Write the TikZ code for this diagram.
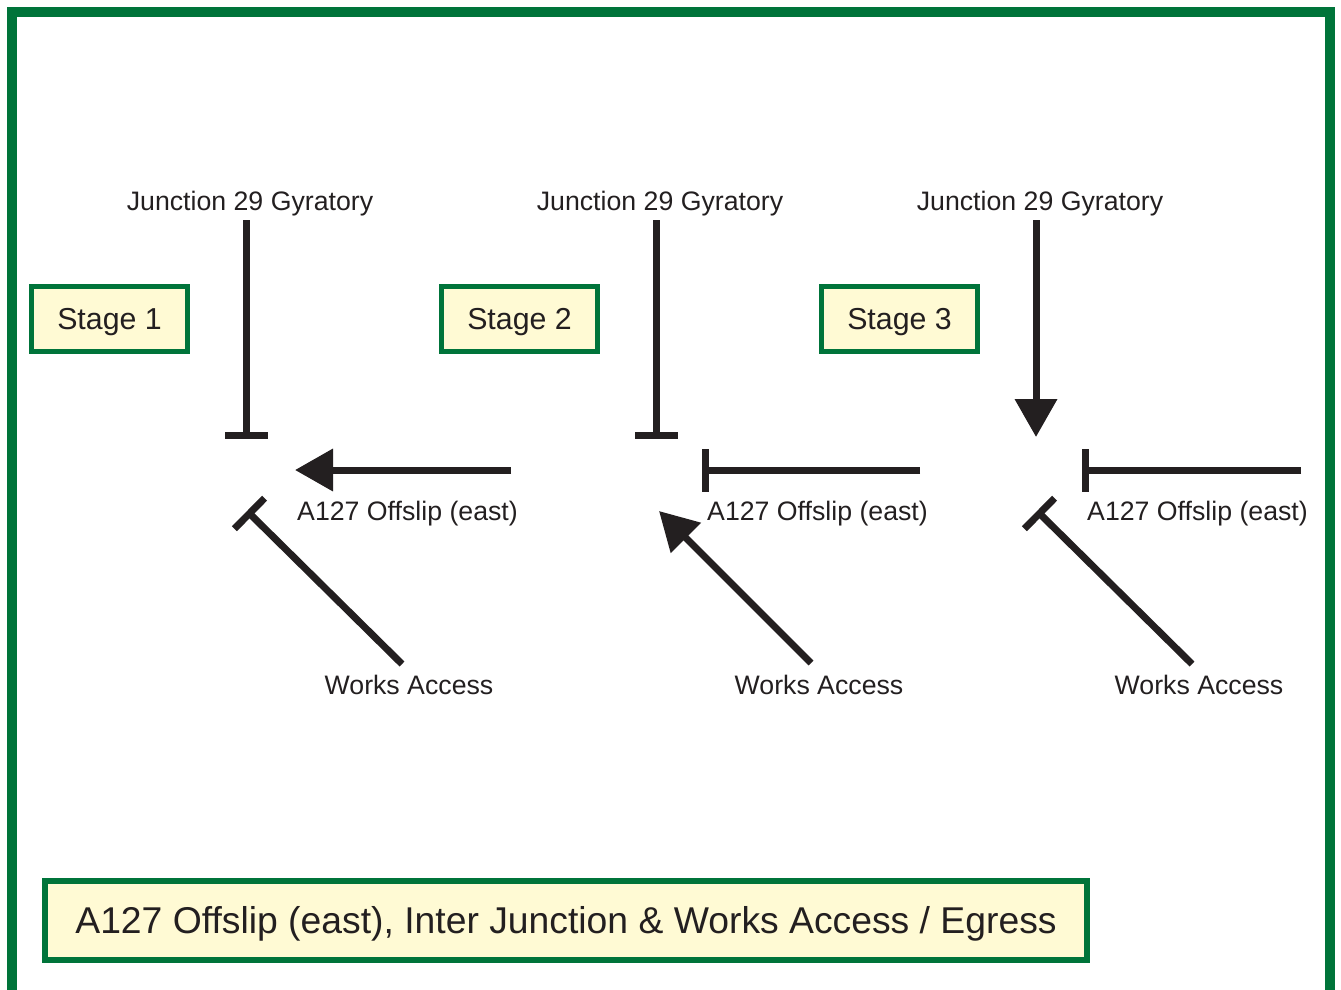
\documentclass[tikz,border=0pt]{standalone}
\usepackage{fontspec}
\setmainfont{Liberation Sans}
\usetikzlibrary{arrows.meta}
\definecolor{sgreen}{RGB}{0,116,58}
\definecolor{spale}{RGB}{255,250,212}
\definecolor{ink}{RGB}{35,31,32}
\tikzset{
  frame/.style={draw=sgreen, line width=10pt},
  stagebox/.style={draw=sgreen, fill=spale, line width=5pt, minimum width=156pt,
    minimum height=65pt, inner sep=0pt, text height=21.5pt, text depth=0pt,
    font=\fontsize{30.3}{34}\selectfont, text=ink},
  titlebox/.style={draw=sgreen, fill=spale, line width=6pt, minimum width=1042pt,
    minimum height=79pt, inner sep=0pt, text height=26.5pt, text depth=0pt,
    font=\fontsize{37.3}{42}\selectfont, text=ink},
  lbl/.style={inner sep=0pt, anchor=base, font=\fontsize{26.7}{30}\selectfont, text=ink},
  lblw/.style={lbl, anchor=base west},
  road/.style={draw=ink, line width=7pt},
  closed/.style={road, -{Bar[width=43pt]}},
  open/.style={road, -{Triangle[length=38pt, width=41pt]}}
}
\begin{document}
\begin{tikzpicture}[x=1pt, y=-1pt]
\useasboundingbox (0,0) rectangle (1341,989);
% outer frame, running off the bottom edge
\begin{scope}
  \clip (0,0) rectangle (1341,989);
  \draw[frame] (12,12) rectangle (1330,1020);
\end{scope}

% stage headings
\node[stagebox] (s1) at (109.5,319) {Stage 1};
\node[stagebox] (s2) at (519.5,319) {Stage 2};
\node[stagebox] (s3) at (899.5,319) {Stage 3};

% caption
\node[titlebox] (cap) at (566,920.5) {A127 Offslip (east), Inter Junction \& Works Access / Egress};

% labels
\node[lbl]  (g1) at (250,210.5) {Junction 29 Gyratory};
\node[lbl]  (g2) at (660,210.5) {Junction 29 Gyratory};
\node[lbl]  (g3) at (1040,210.5) {Junction 29 Gyratory};
\node[lblw] (o1) at (297,520.5) {A127 Offslip (east)};
\node[lblw] (o2) at (707,520.5) {A127 Offslip (east)};
\node[lblw] (o3) at (1087,520.5) {A127 Offslip (east)};
\node[lbl]  (w1) at (409,694.5) {Works Access};
\node[lbl]  (w2) at (819,694.5) {Works Access};
\node[lbl]  (w3) at (1199,694.5) {Works Access};

% road ends
\coordinate (g1s) at (246,220);  \coordinate (g1e) at (246,439);
\coordinate (o1s) at (511,470);  \coordinate (o1e) at (295,470);
\coordinate (w1s) at (402,664);  \coordinate (w1e) at (247,511);
\coordinate (g2s) at (656,220);  \coordinate (g2e) at (656,439);
\coordinate (o2s) at (920,470);  \coordinate (o2e) at (702,470);
\coordinate (w2s) at (811,663);  \coordinate (w2e) at (659,511);
\coordinate (g3s) at (1036,220); \coordinate (g3e) at (1036,437);
\coordinate (o3s) at (1301,470); \coordinate (o3e) at (1082,470);
\coordinate (w3s) at (1192,664); \coordinate (w3e) at (1037,511);

% stage 1
\draw[closed] (g1s) -- (g1e);
\draw[open]   (o1s) -- (o1e);
\draw[closed] (w1s) -- (w1e);
% stage 2
\draw[closed] (g2s) -- (g2e);
\draw[closed] (o2s) -- (o2e);
\draw[open]   (w2s) -- (w2e);
% stage 3
\draw[open]   (g3s) -- (g3e);
\draw[closed] (o3s) -- (o3e);
\draw[closed] (w3s) -- (w3e);
\end{tikzpicture}
\end{document}
